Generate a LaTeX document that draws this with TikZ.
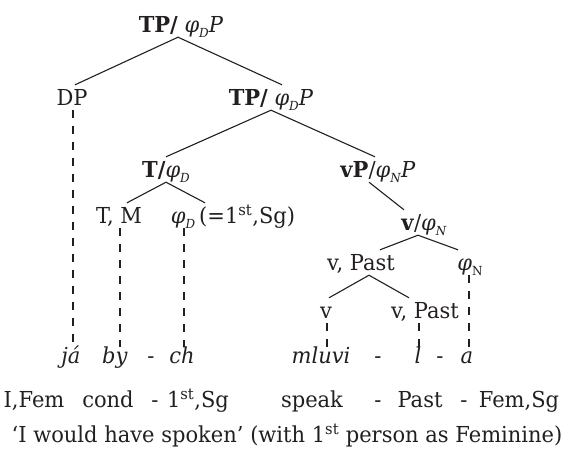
\documentclass[tikz,border=0pt]{standalone}
\usepackage{fontspec}
\setmainfont[FakeStretch=0.955]{DejaVu Serif}
\newcommand{\sbs}[1]{\raisebox{-0.45ex}{\fontsize{12.5}{12.5}\selectfont #1}}
\newcommand{\phiD}{\textit{φ}\sbs{\textit{D}}}
\newcommand{\phiN}{\textit{φ}\sbs{\textit{N}}}
\newcommand{\phiNu}{\textit{φ}\sbs{N}}
\newcommand{\ordst}{1\textsuperscript{st}}
\definecolor{ink}{RGB}{35,31,32}
\begin{document}
\begin{tikzpicture}[x=1pt,y=-1pt,
  every node/.style={font=\fontsize{22}{25}\selectfont, text=ink},
  lab/.style={anchor=base, inner sep=0pt, text height=20pt, text depth=5pt},
  wd/.style={anchor=base, inner sep=0pt, text height=16pt, text depth=5pt},
  branch/.style={draw=ink, line width=1.1pt},
  dsh/.style={draw=ink, line width=1.6pt, dash pattern=on 8pt off 8pt}]
\useasboundingbox (0,0) rectangle (567,467);
% tree labels
\node[lab] (tp1) at (181,32) {\textbf{TP/} \textit{φ}\sbs{\textit{D}}\textit{P}};
\node[lab] (dp) at (72,105) {DP};
\node[lab] (tp2) at (271,105) {\textbf{TP/} \textit{φ}\sbs{\textit{D}}\textit{P}};
\node[lab] (tphi) at (166,177) {\textbf{T/}\phiD};
\node[lab] (vp) at (378,177) {\textbf{vP}/\phiN\textit{P}};
\node[lab] (tm) at (119,223) {T, M};
\node[lab] (phid) at (183,223) {\phiD};
\node[lab, anchor=base west] (eq) at (phid.base east) {\,(=\ordst,Sg)};
\node[lab] (vphi) at (424,230) {\textbf{v}/\phiN};
\node[lab] (vpa) at (361,270) {v, Past};
\node[lab] (phin) at (470,270) {\phiNu};
\node[lab] (v2) at (326,318) {v};
\node[lab] (vpb) at (425,318) {v, Past};
% object language words
\node[wd] (ja) at (71,363) {\textit{já}};
\node[wd] (by) at (115,363) {\textit{by}};
\node[wd] (h1) at (151,363) {-};
\node[wd] (ch) at (182,363) {\textit{ch}};
\node[wd] (mluvi) at (321,363) {\textit{mluvi}};
\node[wd] (h2) at (378,363) {-};
\node[wd] (l) at (418,363) {\textit{l}};
\node[wd] (h3) at (440,363) {-};
\node[wd] (a) at (467,363) {\textit{a}};
% gloss line
\node[wd] (g1) at (34,407) {I,Fem};
\node[wd] (g2) at (108,407) {cond};
\node[wd] (g3) at (155,407) {-};
\node[wd] (g4) at (198,407) {\ordst,Sg};
\node[wd] (g5) at (312,407) {speak};
\node[wd] (g6) at (378,407) {-};
\node[wd] (g7) at (420,407) {Past};
\node[wd] (g8) at (464,407) {-};
\node[wd] (g9) at (519,407) {Fem,Sg};
% translation
\node[wd] (tr) at (287,442) {‘I would have spoken’ (with \ordst{} person as Feminine)};
% branches
\draw[branch] ([xshift=-3pt]tp1.south) -- ([xshift=3pt]dp.north);
\draw[branch] ([xshift=-3pt]tp1.south) -- ([xshift=11pt]tp2.north);
\draw[branch] (tp2.south) -- (tphi.north);
\draw[branch] (tp2.south) -- ([xshift=-3pt]vp.north);
\draw[branch] (tphi.south) -- ([xshift=8pt]tm.north);
\draw[branch] (tphi.south) -- ([xshift=22pt]phid.north);
\draw[branch] ([xshift=-9pt]vp.south) -- ([xshift=-20pt]vphi.north);
\draw[branch] ([xshift=-6pt]vphi.south) -- ([xshift=19pt]vpa.north);
\draw[branch] ([xshift=-6pt]vphi.south) -- ([xshift=-12pt]phin.north);
\draw[branch] ([xshift=8pt]vpa.south) -- ([xshift=3pt]v2.north);
\draw[branch] ([xshift=8pt]vpa.south) -- ([xshift=-16pt]vpb.north);
% association lines
\draw[dsh] ([xshift=1pt]dp.south) -- ([xshift=1pt]dp.south |- ja.north);
\draw[dsh] ([xshift=1pt]tm.south) -- ([xshift=1pt]tm.south |- by.north);
\draw[dsh] ([xshift=1pt]phid.south) -- ([xshift=1pt]phid.south |- ch.north);
\draw[dsh] ([xshift=1pt]v2.south) -- ([xshift=1pt]v2.south |- mluvi.north);
\draw[dsh] ([xshift=-6pt]vpb.south) -- ([xshift=-6pt]vpb.south |- l.north);
\draw[dsh] ([xshift=-1pt]phin.south) -- ([xshift=-1pt]phin.south |- a.north);
\end{tikzpicture}
\end{document}
